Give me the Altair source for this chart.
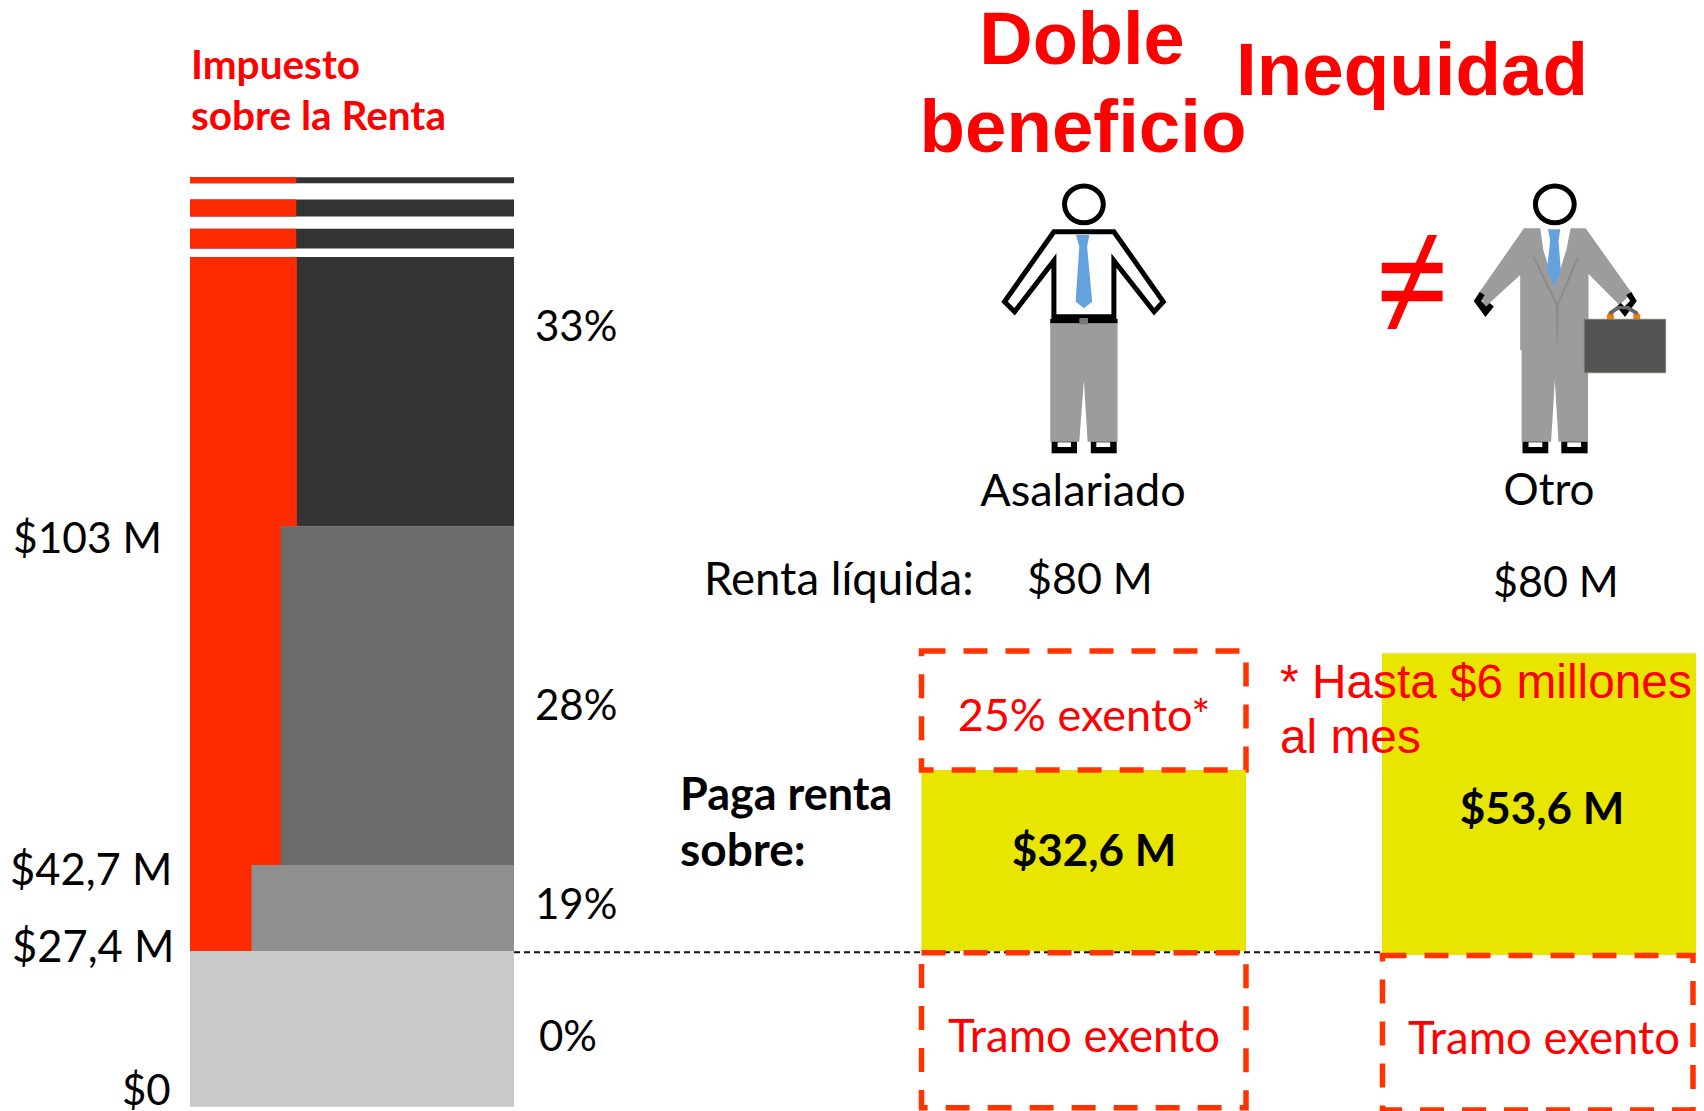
import altair as alt
import pandas as pd

# ---- income brackets ($ millions) and marginal rates
bracket_low = [-0.3, 27.4, 42.7, 103.0]
bracket_high = [27.4, 42.7, 103.0, 150.9]
bracket_rate = [0.0, 0.19, 0.28, 0.33]
bracket_color = ["#c9c9c9", "#8f8f8f", "#6b6b6b", "#333333"]
stripe_low = [164.0, 158.1, 152.4]
stripe_high = [165.1, 161.1, 155.9]

# ---- comparison blocks ($ millions)
yellow_low = [27.4, 26.7]
yellow_high = [59.6, 80.4]
box_low = [59.6, -0.5, -0.9]
box_high = [80.8, 27.1, 26.6]

# ---- layout
PX0, PXM = 1105.0, 5.62
TOP, BOTTOM, LEFT, RIGHT = 8, 1111, 8, 1696
def inc(py):
    return (PX0 - py) / PXM

BAR_L, BAR_R = 190, 514
yellow_x = [(921.5, 1246), (1382, 1696)]
box_x = [(921.5, 1246), (921.5, 1246), (1382.5, 1693)]

X = lambda f, **k: alt.X(f, type="quantitative", axis=None, title=None,
                         scale=alt.Scale(domain=[LEFT, RIGHT], nice=False, zero=False), **k)
Y = lambda f, **k: alt.Y(f, type="quantitative", axis=None, title=None,
                         scale=alt.Scale(domain=[inc(BOTTOM), inc(TOP)], nice=False, zero=False), **k)

def rects(rows, **mark):
    return alt.Chart(pd.DataFrame(rows)).mark_rect(**mark).encode(
        x=X("x0"), x2=alt.X2("x1"), y=Y("y0"), y2=alt.Y2("y1"))

layers = []
# income ladder
layers.append(rects([dict(x0=BAR_L, x1=BAR_R, y0=a, y1=b) for a, b in zip(stripe_low, stripe_high)], color="#333333"))
layers.append(rects([dict(x0=BAR_L, x1=BAR_L + 0.328 * (BAR_R - BAR_L), y0=a, y1=b) for a, b in zip(stripe_low, stripe_high)], color="#ff2a00"))
for lo, hi, c in zip(bracket_low, bracket_high, bracket_color):
    layers.append(rects([dict(x0=BAR_L, x1=BAR_R, y0=lo, y1=hi)], color=c))
for lo, r in zip(bracket_low, bracket_rate):
    if r > 0:
        layers.append(rects([dict(x0=BAR_L, x1=BAR_L + r * (BAR_R - BAR_L), y0=lo, y1=bracket_high[-1])], color="#ff2a00"))

# yellow blocks
for (a, b), lo, hi in zip(yellow_x, yellow_low, yellow_high):
    layers.append(rects([dict(x0=a, x1=b, y0=lo, y1=hi)], color="#e8e600"))

# dashed threshold
layers.append(alt.Chart(pd.DataFrame({"x": [BAR_R, 1382], "y": [27.2, 27.2]})).mark_line(
    color="#111111", strokeWidth=2, strokeDash=[6, 4]).encode(x=X("x"), y=Y("y")))

# dashed boxes
for (a, b), lo, hi in zip(box_x, box_low, box_high):
    layers.append(rects([dict(x0=a, x1=b, y0=hi, y1=lo)], fillOpacity=0, stroke="#ff3300",
                        strokeWidth=5.5, strokeDash=[24, 18]))

# ---- figures (outline points, local to an anchor)
OX, OY = 980, 170
def P(*polys):
    out = []
    for pts in polys:
        q = [(x / 2.166, y / 3) for x, y in pts]
        out.append("M" + " L".join(f"{x:.1f},{y:.1f}" for x, y in q) + " Z")
    return " ".join(out)
def E(cx, cy, rx, ry):
    cx, cy, rx, ry = cx / 2.166, cy / 3, rx / 2.166, ry / 3
    kx, ky = rx * 0.5523, ry * 0.5523
    return (f"M{cx-rx:.1f},{cy:.1f} C{cx-rx:.1f},{cy-ky:.1f} {cx-kx:.1f},{cy-ry:.1f} {cx:.1f},{cy-ry:.1f} "
            f"C{cx+kx:.1f},{cy-ry:.1f} {cx+rx:.1f},{cy-ky:.1f} {cx+rx:.1f},{cy:.1f} "
            f"C{cx+rx:.1f},{cy+ky:.1f} {cx+kx:.1f},{cy+ry:.1f} {cx:.1f},{cy+ry:.1f} "
            f"C{cx-kx:.1f},{cy+ry:.1f} {cx-rx:.1f},{cy+ky:.1f} {cx-rx:.1f},{cy:.1f} Z")
def R(x0, y0, x1, y1):
    return P([(x0, y0), (x1, y0), (x1, y1), (x0, y1)])
def shape(path, fill="transparent", stroke="transparent", sw=0):
    m = dict(shape=path, size=4, filled=True, fill=fill, opacity=1, strokeOpacity=1)
    if sw:
        m.update(stroke=stroke, strokeWidth=sw, strokeJoin="miter")
    return alt.Chart(pd.DataFrame({"x": [OX], "y": [inc(OY)]})).mark_point(**m).encode(x=X("x"), y=Y("y"))

GR, BL = "#9c9c9c", "#64a2df"
# salaried
layers += [
    shape(P([(152, 460), (298, 460), (298, 815), (233, 815), (225, 630), (215, 815), (152, 815)]), GR),
    shape(R(155, 815, 210, 850), "#000"), shape(R(168, 817, 197, 831), "#fff"),
    shape(R(240, 815, 296, 850), "#000"), shape(R(252, 817, 282, 831), "#fff"),
    shape(P([(160, 185), (290, 185), (397, 395), (377, 425), (290, 272), (290, 440), (160, 440),
             (160, 272), (75, 425), (53, 395)]), "#fff", "#000", 5),
    shape(R(152, 447, 298, 460), "#000"), shape(R(215, 444, 234, 463), "#777"),
    shape(P([(208, 195), (237, 195), (232, 230), (243, 395), (225, 415), (207, 395), (215, 230)]), BL),
    shape(E(225, 103, 42, 55), "#fff", "#000", 5),
]
# other
layers += [
    shape(P([(1173, 535), (1317, 535), (1317, 815), (1253, 815), (1245, 630), (1237, 815), (1173, 815)]), GR),
    shape(R(1175, 815, 1231, 850), "#000"), shape(R(1188, 817, 1218, 831), "#fff"),
    shape(R(1259, 815, 1316, 850), "#000"), shape(R(1272, 817, 1302, 831), "#fff"),
    shape(P([(1178, 175), (1312, 175), (1412, 370), (1385, 405), (1318, 312), (1318, 540), (1170, 540),
             (1170, 315), (1095, 410), (1080, 370)]), GR),
    shape(P([(1213, 170), (1280, 170), (1270, 240), (1245, 350), (1220, 240)]), "#fff"),
    shape(P([(1230, 178), (1257, 178), (1253, 212), (1258, 300), (1245, 350), (1228, 300), (1235, 212)]), BL),
    shape(P([(1197, 262), (1201, 258), (1248, 392), (1251, 396), (1293, 260), (1297, 264), (1254, 405),
             (1252, 520), (1249, 520), (1247, 405)]), "#8d8d8d"),
    shape(P([(1072, 393), (1083, 370), (1090, 376), (1083, 393), (1096, 414), (1104, 403), (1110, 410),
             (1095, 436)]), "#000", "#000", 2),
    shape(P([(1420, 393), (1410, 370), (1403, 376), (1411, 393), (1396, 414), (1388, 403), (1382, 410),
             (1397, 436)]), "#000", "#000", 2),
    shape(P([(1358, 448), (1362, 425), (1380, 408), (1405, 408), (1425, 425), (1430, 448), (1420, 448),
             (1415, 430), (1400, 418), (1385, 418), (1372, 430), (1368, 448)]), "#666"),
    shape(R(1358, 433, 1373, 448), "#f57c00"), shape(R(1415, 433, 1430, 448), "#f57c00"),
    shape(R(1309, 448, 1485, 608), "#545454", "#7c7c6c", 1),
    shape(E(1245, 103, 42, 55), "#fff", "#000", 5),
    shape(R(870, 278, 1002, 310), "#ff0000"), shape(R(870, 362, 1002, 394), "#ff0000"),
    shape(P([(970, 195), (990, 195), (902, 477), (882, 477)]), "#ff0000"),
]

# ---- texts: text, x, py, align, font, size, weight, colour
CAL, ARI = "Lato", "Liberation Sans"
RED = "#ff0000"
texts = [
    ("Impuesto", 191, 67, "left", CAL, 40.5, "bold", RED),
    ("sobre la Renta", 191, 118, "left", CAL, 40.5, "bold", RED),
    ("$103 M", 13, 540, "left", CAL, 42.5, "normal", "#000"),
    ("$42,7 M", 10, 872, "left", CAL, 43.5, "normal", "#000"),
    ("$27,4 M", 12, 949, "left", CAL, 43.5, "normal", "#000"),
    ("$0", 122, 1092, "left", CAL, 42, "normal", "#000"),
    ("33%", 535, 328, "left", CAL, 42, "normal", "#000"),
    ("28%", 535, 707, "left", CAL, 42, "normal", "#000"),
    ("19%", 535, 906, "left", CAL, 42, "normal", "#000"),
    ("0%", 539, 1038, "left", CAL, 42, "normal", "#000"),
    ("Asalariado", 1083, 492, "center", CAL, 45, "normal", "#000"),
    ("Otro", 1549, 492, "center", CAL, 44, "normal", "#000"),
    ("Renta líquida:", 704, 581, "left", CAL, 45.5, "normal", "#000"),
    ("$80 M", 1027, 581, "left", CAL, 43, "normal", "#000"),
    ("$80 M", 1493, 584, "left", CAL, 43, "normal", "#000"),
    ("Paga renta", 680, 796, "left", CAL, 45, "bold", "#000"),
    ("sobre:", 680, 852, "left", CAL, 46, "bold", "#000"),
    ("25% exento*", 1084, 717, "center", CAL, 45, "normal", RED),
    ("$32,6 M", 1094, 853, "center", CAL, 44, "bold", "#000"),
    ("$53,6 M", 1542, 811, "center", CAL, 44, "bold", "#000"),
    ("Tramo exento", 1084, 1038, "center", CAL, 45.5, "normal", RED),
    ("Tramo exento", 1544, 1040, "center", CAL, 45.5, "normal", RED),
    ("Doble", 1082, 42, "center", ARI, 74, "bold", RED),
    ("beneficio", 1083, 130, "center", ARI, 74.5, "bold", RED),
    ("Inequidad", 1412, 73, "center", ARI, 74.5, "bold", RED),
    ("* Hasta $6 millones", 1280, 684, "left", ARI, 47.8, "normal", RED),
    ("al mes", 1280, 739, "left", ARI, 47.8, "normal", RED),
]
for t, x, py, al, fnt, sz, wt, col in texts:
    layers.append(alt.Chart(pd.DataFrame({"x": [x], "y": [inc(py)], "t": [t]})).mark_text(
        align=al, baseline="middle", font=fnt, fontSize=sz, fontWeight=wt, color=col
    ).encode(x=X("x"), y=Y("y"), text=alt.Text("t:N")))

chart = alt.layer(*layers).properties(
    width=RIGHT - LEFT, height=BOTTOM - TOP, padding=0, background="#ffffff",
    autosize=alt.AutoSizeParams(type="none")
).configure_view(stroke=None)

chart.save("out.html", embed_options={"renderer": "svg", "actions": False})
